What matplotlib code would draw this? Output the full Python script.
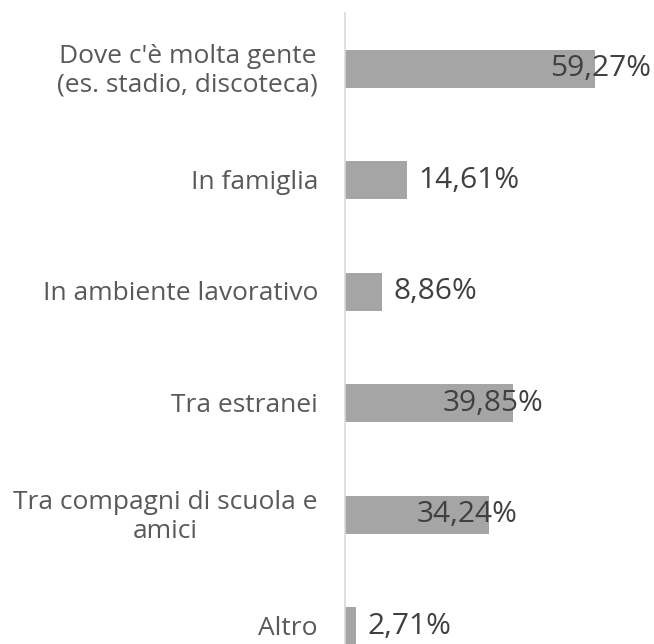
import matplotlib
matplotlib.use("Agg")
import matplotlib.pyplot as plt
import matplotlib.transforms as mtransforms

# survey answers, top to bottom
categories = [
    "Dove c'è molta gente\n(es. stadio, discoteca)",
    "In famiglia",
    "In ambiente lavorativo",
    "Tra estranei",
    "Tra compagni di scuola e\namici",
    "Altro",
]
values = [59.27, 14.61, 8.86, 39.85, 34.24, 2.71]
value_labels = ["59,27%", "14,61%", "8,86%", "39,85%", "34,24%", "2,71%"]

# where each value label sits relative to the bar end (pixels)
label_shift = [-45, 12, 11, -70, -73, 11]

plt.rcParams['font.family'] = ['Open Sans', 'DejaVu Sans']

W, H = 654, 644
fig = plt.figure(figsize=(W / 100, H / 100), dpi=100)
fig.patch.set_facecolor("white")

# axis line sits at x=345px, plot runs to the right edge
px_per_unit = 250 / 59.27
ax = fig.add_axes([345 / W, 0, (W - 345) / W, (H - 13) / H])
slot = 111.5
ypos = list(range(len(categories)))

ax.barh(ypos, values, height=38 / slot, color="#A5A5A5", zorder=2)

ax.set_xlim(0, (W - 345) / px_per_unit)
ax.set_ylim(-0.5 + (H - 13) / slot, -0.5)

for s in ["top", "right", "bottom"]:
    ax.spines[s].set_visible(False)
ax.spines["left"].set_color("#D9D9D9")
ax.spines["left"].set_linewidth(1.2)
ax.set_xticks([])
ax.set_yticks([])

trans = mtransforms.blended_transform_factory(ax.transAxes, ax.transData)
for y, cat in zip(ypos, categories):
    ax.text(-27 / (W - 345), y + 0.02, cat, transform=trans, ha="right", va="center",
            multialignment="center", fontsize=19, color="#595959", linespacing=1.18)

for y, v, lab, dx in zip(ypos, values, value_labels, label_shift):
    ax.annotate(lab, (v, y), xytext=(dx, 0), textcoords="offset pixels",
                ha="left", va="center", fontsize=21.5, color="#404040", zorder=3)

fig.savefig("out.png", dpi=100, facecolor="white")
